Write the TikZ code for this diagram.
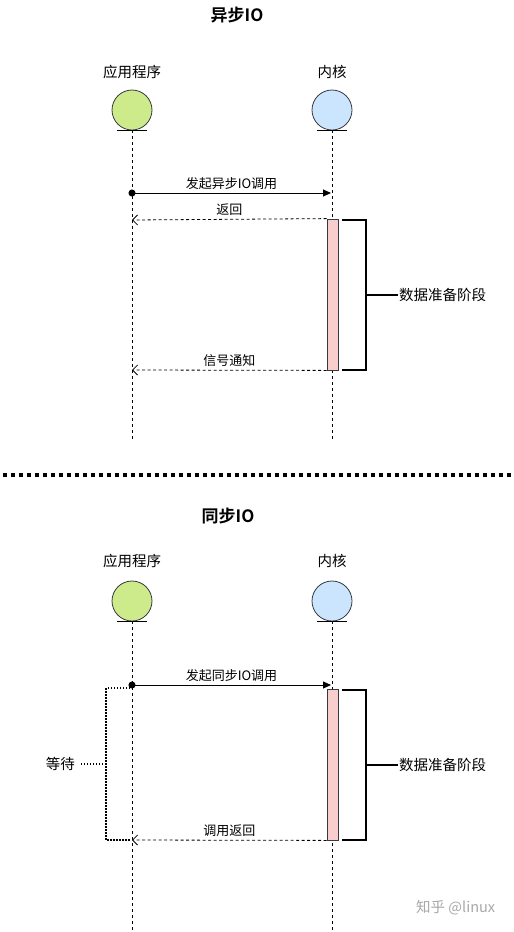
\documentclass[tikz,border=0pt]{standalone}
\usepackage{fontspec}
\setmainfont{Noto Sans CJK SC}[BoldFont=Noto Sans CJK SC Bold]
\usetikzlibrary{arrows.meta}
\definecolor{appgreen}{HTML}{CDEB8B}
\definecolor{kernblue}{HTML}{CCE5FF}
\definecolor{actpink}{HTML}{F8CECC}
\definecolor{strokegray}{HTML}{36393D}
\definecolor{wmgray}{HTML}{A8A8A8}
\tikzset{
  actor/.style={circle, draw=strokegray, line width=0.8pt, minimum size=40pt, inner sep=0pt},
  lifeline/.style={draw=black, line width=0.7pt, dash pattern=on 3pt off 3pt},
  underl/.style={draw=black, line width=0.8pt},
  call/.style={draw=black, line width=0.9pt, {Circle[length=7pt]}-{Triangle[length=8pt,width=7pt]}, shorten <=-3.5pt},
  ret/.style={draw=black, line width=0.8pt, dash pattern=on 3pt off 2.5pt, -{Straight Barb[length=5pt,width=10pt]}},
  actbox/.style={rectangle, draw=strokegray, fill=actpink, line width=0.8pt, minimum width=11pt, inner sep=0pt},
  brack/.style={draw=black, line width=2pt},
  waitbr/.style={draw=black, line width=2pt, dash pattern=on 1.5pt off 1.5pt},
  sep/.style={draw=black, line width=3.5pt, dash pattern=on 3.5pt off 4.5pt},
  lbl/.style={font=\fontsize{13}{15}\selectfont, inner sep=1pt},
  head/.style={font=\fontsize{14.5}{17}\selectfont, inner sep=1pt},
  ttl/.style={font=\fontsize{17}{19}\selectfont\bfseries, inner sep=1pt},
}
\begin{document}
\begin{tikzpicture}[x=1pt,y=-1pt]
\useasboundingbox (0,0) rectangle (514,932);

% ===== Async section =====
\node[ttl] (t1) at (237,15) {异步IO};
\node[head] (h1a) at (132,72) {应用程序};
\node[head] (h1k) at (332,72) {内核};
\node[actor, fill=appgreen] (app1) at (132,110) {};
\node[actor, fill=kernblue] (ker1) at (332,110) {};
\draw[underl] ([xshift=-15pt]app1.south) -- ([xshift=15pt]app1.south);
\draw[underl] ([xshift=-15pt]ker1.south) -- ([xshift=15pt]ker1.south);
\coordinate (app1end) at (132,440);
\coordinate (ker1end) at (332,440);
\draw[lifeline] (app1.south) -- (app1end);
\draw[lifeline] (ker1.south) -- (ker1end);

\coordinate (c1s) at (132,193);
\coordinate (c1e) at (331,193);
\draw[call] (c1s) -- (c1e) node[lbl, midway, above=2pt] {发起异步IO调用};

\node[actbox, minimum height=151pt] (act1) at (332.5,294.5) {};
\coordinate (r1e) at (132,220);
\draw[ret] (act1.north west) -- (r1e) node[lbl, midway, above=2pt] {返回};
\coordinate (r2e) at (132,370);
\draw[ret] (act1.south west) -- (r2e) node[lbl, midway, above=2pt] {信号通知};

\coordinate (b1t) at (342,220);
\coordinate (b1b) at (342,370);
\node[head, anchor=west] (p1) at (398,295) {数据准备阶段};
\draw[brack] (b1t) -| (366,370) -- (b1b);
\draw[brack] (366,295) -- (p1.west);

% separator
\coordinate (sepL) at (3,475);
\coordinate (sepR) at (511,475);
\draw[sep] (sepL) -- (sepR);

% ===== Sync section =====
\node[ttl] (t2) at (228,516) {同步IO};
\node[head] (h2a) at (132,561) {应用程序};
\node[head] (h2k) at (332,561) {内核};
\node[actor, fill=appgreen] (app2) at (132,601) {};
\node[actor, fill=kernblue] (ker2) at (332,601) {};
\draw[underl] ([xshift=-15pt]app2.south) -- ([xshift=15pt]app2.south);
\draw[underl] ([xshift=-15pt]ker2.south) -- ([xshift=15pt]ker2.south);
\coordinate (app2end) at (132,930);
\coordinate (ker2end) at (332,930);
\draw[lifeline] (app2.south) -- (app2end);
\draw[lifeline] (ker2.south) -- (ker2end);

\coordinate (c2s) at (132,685);
\coordinate (c2e) at (331,685);
\draw[call] (c2s) -- (c2e) node[lbl, midway, above=2pt] {发起同步IO调用};

\node[actbox, minimum height=151pt] (act2) at (332.5,764.5) {};
\coordinate (r3e) at (132,840);
\draw[ret] (act2.south west) -- (r3e) node[lbl, midway, above=2pt] {调用返回};

\coordinate (b2t) at (342,690);
\coordinate (b2b) at (342,840);
\node[head, anchor=west] (p2) at (398,765) {数据准备阶段};
\draw[brack] (b2t) -| (366,840) -- (b2b);
\draw[brack] (366,765) -- (p2.west);

% wait bracket
\coordinate (w1t) at (130,688);
\coordinate (w1b) at (130,840);
\node[head, anchor=east] (wt) at (76,764) {等待};
\draw[waitbr] (w1t) -| (106,840) -- (w1b);
\draw[waitbr] (106,764) -- ([xshift=4pt]wt.east);

% watermark
\node[font=\fontsize{14.5}{17}\selectfont, text=wmgray, anchor=west, inner sep=0pt] (wm) at (416,908) {知乎 @linux};
\end{tikzpicture}
\end{document}
